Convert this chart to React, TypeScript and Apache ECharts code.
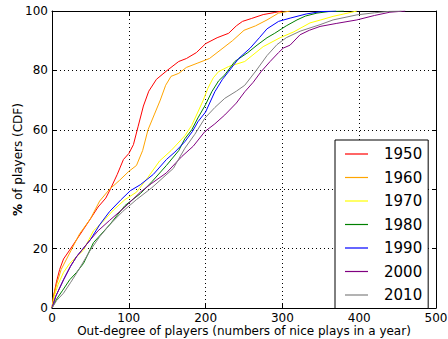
import React, { useEffect, useRef } from "react";
import * as echarts from "echarts";

const years = ["1950", "1960", "1970", "1980", "1990", "2000", "2010"];
const colors = ["#ff0000", "#ffa500", "#ffff00", "#008000", "#0000ff", "#800080", "#808080"];

const xTicks = [0, 100, 200, 300, 400, 500];
const yTicks = [0, 20, 40, 60, 80, 100];

const cdf1950 = [[0,0],[2,4],[6,9],[10,13],[15,16.5],[23,19.5],[32,23],[41,26.5],[50,30],[60,34],[70,37],[76,40],[85,45],[93,50],[100,52],[106,55],[112,61],[119,68],[126,73],[136,77],[150,80],[165,83],[175,84],[188,86],[200,89],[215,91],[230,92.5],[240,95],[248,96.5],[260,97.5],[275,98.8],[290,99.5],[300,100]];
const cdf1960 = [[0,0],[2,4],[6,8],[12,13],[23,18.5],[36,25],[50,30],[62,36],[75,40],[88,43],[100,46],[110,48],[118,53],[125,60],[133,65],[141,70],[148,75],[155,78],[165,79],[175,81],[190,82.5],[205,84],[220,87],[235,90],[250,93.5],[265,95],[280,97],[295,99.3],[310,100]];
const cdf1970 = [[0,0],[3,4],[8,8],[15,12],[23,15],[41,19.5],[54,26],[66,29],[80,33],[95,36.5],[110,39],[125,44],[140,49.5],[155,53],[173,58],[182,61.5],[190,66],[197,70],[203,74],[210,77.5],[217,79.6],[230,81.3],[251,83],[275,88],[297,91],[315,93],[336,96],[350,97],[366,98.2],[380,99],[397,100]];
const cdf1980 = [[0,0],[6,3],[14,6],[23,9.5],[32,12],[41,15],[54,22],[75,28],[95,34.5],[115,38.5],[130,42.5],[149,48],[165,53],[173,57],[182,60],[190,64],[200,68.5],[208,72.8],[217,76.5],[225,78.5],[238,83],[255,86],[267,88.5],[280,91],[290,92.5],[305,95],[319,97],[330,98.3],[345,99.3],[360,99.8],[380,100]];
const cdf1990 = [[0,0],[5,4],[15,9.5],[24,14],[32,17.3],[50,23],[62,28],[75,32.5],[90,36.5],[102,39.5],[115,41.5],[132,45],[149,50],[160,52.5],[173,56],[183,59.5],[190,62.7],[200,66],[212,72.8],[222,77],[230,79.6],[243,84],[258,87.5],[270,91],[280,94],[295,96.5],[310,97.6],[331,99],[350,99.8],[370,100]];
const cdf2000 = [[0,0],[5,4],[15,9.5],[24,14],[32,17.3],[50,23],[60,26],[75,29.5],[95,34],[115,39],[130,42],[149,45.5],[169,51],[184,54.5],[199,59.4],[212,62],[225,65],[240,69],[251,72.8],[262,76],[272,79.5],[284,83],[295,86],[301,87.5],[310,88.5],[323,92],[335,93.5],[349,94.8],[370,95.8],[397,97],[420,98.5],[440,99.6],[460,100]];
const cdf2010 = [[0,0],[6,2.5],[15,5],[24,8.5],[32,11.7],[50,19.5],[62,24],[75,28],[92,32.5],[110,36.5],[130,40.5],[158,47],[173,53.8],[186,58.5],[199,63.9],[212,67.5],[225,70.6],[240,73],[251,75],[266,80],[280,85],[293,88.7],[305,91],[323,93.2],[349,95.4],[366,97],[397,98.7],[420,99.4],[440,99.9],[455,100]];

const allData = [cdf1950, cdf1960, cdf1970, cdf1980, cdf1990, cdf2000, cdf2010];

const FONT = "DejaVu Sans";

export default function App() {
  const ref = useRef<HTMLDivElement>(null);
  useEffect(() => {
    if (!ref.current) return;
    const chart = echarts.init(ref.current, null, { renderer: "svg" });
    const axisLine = { show: true, onZero: false, lineStyle: { color: "#000", width: 1 } };
    const tick = { show: true, inside: true, length: 4, lineStyle: { color: "#000" } };
    chart.setOption({
      animation: false,
      backgroundColor: "#fff",
      textStyle: { fontFamily: FONT },
      grid: { left: 52, right: 12, top: 11, bottom: 31, containLabel: false, outerBoundsMode: "none" },
      legend: {
        orient: "vertical",
        left: 335,
        top: 140,
        data: years,
        icon: "path://M0,0 L23,0 L23,1.2 L0,1.2 Z",
        padding: [6.5, 6, 6, 10],
        itemWidth: 23,
        itemHeight: 14,
        itemGap: 8.5,
        borderColor: "#000",
        borderWidth: 1,
        borderRadius: 0,
        backgroundColor: "#fff",
        textStyle: { fontFamily: FONT, fontSize: 15, color: "#000", padding: [0, 0, 0, 11] },
      },
      xAxis: [
        {
          type: "value",
          min: xTicks[0],
          max: xTicks[xTicks.length - 1],
          interval: 100,
          position: "bottom",
          axisLine,
          axisTick: tick,
          axisLabel: { color: "#000", fontSize: 12, fontFamily: FONT, margin: 4, lineHeight: 11 },
          splitLine: { show: true, lineStyle: { color: "#000", type: [1, 3], width: 1 } },
          name: "Out-degree of players (numbers of nice plays in a year)",
          nameLocation: "middle",
          nameGap: 16,
          nameMoveOverlap: false,
          nameTextStyle: { color: "#000", fontSize: 12, fontFamily: FONT, lineHeight: 13 },
        },
        {
          type: "value",
          min: xTicks[0],
          max: xTicks[xTicks.length - 1],
          interval: 100,
          position: "top",
          axisLine,
          axisTick: tick,
          axisLabel: { show: false },
          splitLine: { show: false },
        },
      ],
      yAxis: [
        {
          type: "value",
          min: yTicks[0],
          max: yTicks[yTicks.length - 1],
          interval: 20,
          position: "left",
          axisLine,
          axisTick: tick,
          axisLabel: { color: "#000", fontSize: 12, fontFamily: FONT, margin: 4 },
          splitLine: { show: true, lineStyle: { color: "#000", type: [1, 3], width: 1 } },
          name: "{b|%} of players (CDF)",
          nameLocation: "middle",
          nameRotate: 90,
          nameGap: 28,
          nameMoveOverlap: false,
          nameTextStyle: {
            color: "#000",
            fontSize: 12,
            fontFamily: FONT,
            rich: { b: { fontWeight: "bold", fontSize: 12, fontFamily: FONT, color: "#000" } },
          },
        },
        {
          type: "value",
          min: yTicks[0],
          max: yTicks[yTicks.length - 1],
          interval: 20,
          position: "right",
          axisLine,
          axisTick: tick,
          axisLabel: { show: false },
          splitLine: { show: false },
        },
      ],
      series: years.map((y, i) => ({
        name: y,
        type: "line",
        data: allData[i],
        xAxisIndex: 0,
        yAxisIndex: 0,
        symbol: "none",
        showSymbol: false,
        smooth: false,
        color: colors[i],
        lineStyle: { color: colors[i], width: 1 },
        itemStyle: { color: colors[i] },
      })),
    });
    return () => chart.dispose();
  }, []);
  return <div ref={ref} style={{ width: 448, height: 339, position: "absolute", left: 0, top: 0 }} />;
}
